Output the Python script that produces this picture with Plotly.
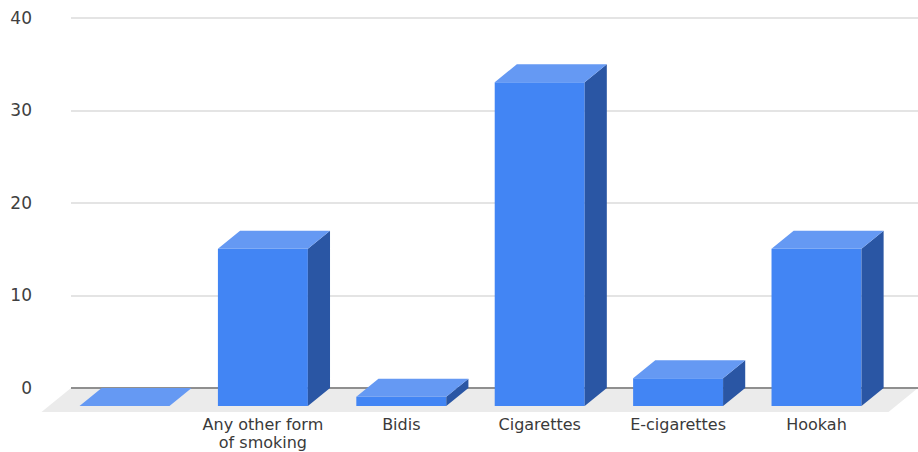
import plotly.graph_objects as go

# ---- data ----
categories = ["", "Any other form of smoking", "Bidis", "Cigarettes", "E-cigarettes", "Hookah"]
values = [0, 17, 1, 35, 3, 17]
label_line1 = ["", "Any other form", "Bidis", "Cigarettes", "E-cigarettes", "Hookah"]
label_line2 = ["", "of smoking", "", "", "", ""]
y_ticks = [0, 10, 20, 30, 40]

# ---- layout constants ----
W, H = 918, 452
L, R, T, B = 71, 0, 10, 38
px_per_cat = 138.4
first_center = 124.5
px_per_unit = 9.25
zero_px = 388

x_min = (L - first_center) / px_per_cat
x_max = (W - R - first_center) / px_per_cat
y_max = (zero_px - T) / px_per_unit
y_min = (zero_px - (H - B)) / px_per_unit

D = 1.95      # depth in value units
DX = 0.16     # depth in category units
BW = 0.65     # bar width
FLOOR = 2.6   # floor depth in value units

FRONT = "#4285f4"
TOP = "#6599f3"
SIDE = "#2a56a4"

xs = list(range(len(categories)))

top_x, top_y, side_x, side_y = [], [], [], []
for i, v in zip(xs, values):
    xl, xr = i - BW / 2, i + BW / 2
    top_x += [xl, xr, xr + DX, xl + DX, xl, None]
    top_y += [v - D, v - D, v, v, v - D, None]
    if v > 0:
        side_x += [xr, xr + DX, xr + DX, xr, xr, None]
        side_y += [-D, 0, v, v - D, -D, None]

fig = go.Figure()
fig.add_trace(go.Bar(x=xs, y=values, base=-D, width=BW,
                     marker=dict(color=FRONT, line=dict(width=0)),
                     hoverinfo="skip", showlegend=False))
fig.add_trace(go.Scatter(x=side_x, y=side_y, mode="lines", fill="toself",
                         fillcolor=SIDE, line=dict(width=0, color=SIDE),
                         hoverinfo="skip", showlegend=False))
fig.add_trace(go.Scatter(x=top_x, y=top_y, mode="lines", fill="toself",
                         fillcolor=TOP, line=dict(width=0, color=TOP),
                         hoverinfo="skip", showlegend=False, xaxis="x2"))

# floor (paper coords derived from axis ranges)
def xp(x):
    return (x - x_min) / (x_max - x_min)

def yp(y):
    return (y - y_min) / (y_max - y_min)

shift = FLOOR * DX / D
path = "M {:.5f},{:.5f} L {:.5f},{:.5f} L {:.5f},{:.5f} L {:.5f},{:.5f} Z".format(
    xp(x_min), yp(0), xp(x_max), yp(0),
    xp(x_max - shift), yp(-FLOOR), xp(x_min - shift), yp(-FLOOR))
fig.add_shape(type="path", path=path, xref="paper", yref="paper",
              fillcolor="#ebebeb", line=dict(width=0), layer="below")

y_font = dict(family="DejaVu Sans", size=17, color="#404040")
x_font = dict(family="DejaVu Sans", size=16, color="#3a3a3a")

fig.update_layout(
    width=W, height=H,
    margin=dict(l=L, r=R, t=T, b=B),
    paper_bgcolor="white", plot_bgcolor="white",
    showlegend=False,
    xaxis=dict(range=[x_min, x_max], tickmode="array", tickvals=xs, ticktext=label_line1,
               showgrid=False, zeroline=False, showline=False, ticks="",
               tickfont=x_font, ticklabelstandoff=-1, automargin=False, fixedrange=True),
    xaxis2=dict(range=[x_min, x_max], overlaying="x", matches="x", anchor="y", side="bottom",
                tickmode="array", tickvals=xs, ticktext=label_line2,
                showgrid=False, zeroline=False, showline=False, ticks="",
                tickfont=x_font, ticklabelstandoff=17, automargin=False, fixedrange=True),
    yaxis=dict(range=[y_min, y_max], tickmode="array", tickvals=y_ticks,
               ticktext=[str(t) for t in y_ticks],
               showgrid=True, gridcolor="#e4e4e4", gridwidth=2,
               zeroline=True, zerolinecolor="#8f8f8f", zerolinewidth=2,
               showline=False, ticks="", tickfont=y_font,
               ticklabelstandoff=38, automargin=False, fixedrange=True),
)

fig.write_html("out.html")
